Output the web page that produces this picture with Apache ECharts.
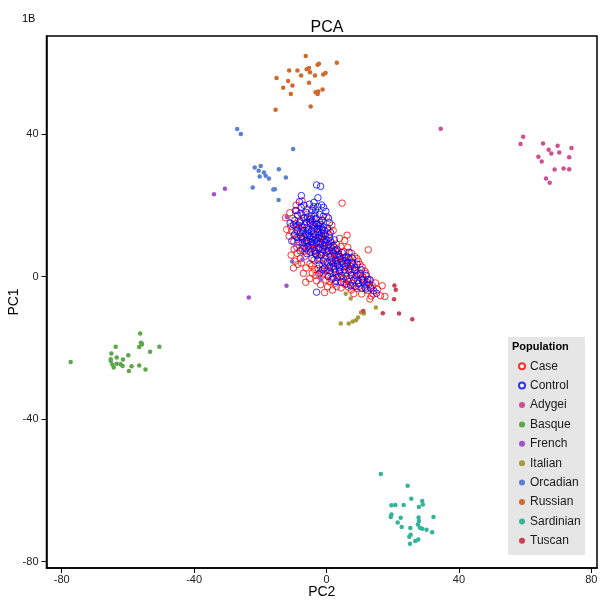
<!DOCTYPE html>
<html>
<head>
<meta charset="utf-8">
<script src="https://cdn.jsdelivr.net/npm/echarts@6/dist/echarts.min.js"></script>
<style>html,body{margin:0;padding:0;background:#fff;}#chart{width:604px;height:606px;}</style>
</head>
<body>
<div id="chart"></div>
<script>
const xTicks = [-80, -40, 0, 40, 80];
const yTicks = [-80, -40, 0, 40];
const populations = ['Case','Control','Adygei','Basque','French','Italian','Orcadian','Russian','Sardinian','Tuscan'];

const caseData = [[-11.1,17.9],[-9.1,18.5],[-10.2,16.3],[-9.6,12.0],[-8.4,13.6],[-6.6,16.6],[-8.0,15.5],[-10.8,14.0],[-11.3,11.3],[-9.9,9.8],[-8.6,10.9],[-7.2,12.5],[-6.0,13.8],[-4.9,15.2],[-3.6,16.9],[4.7,20.6],[-2.0,13.4],[-3.2,11.6],[-4.6,10.6],[-6.0,9.3],[-7.4,7.8],[-8.9,6.5],[-9.5,4.3],[-7.9,5.1],[-6.5,5.7],[-5.0,3.6],[-5.5,7.4],[-4.2,7.9],[-3.0,8.2],[-1.7,9.6],[-0.4,10.5],[0.8,11.8],[2.0,12.9],[1.5,9.5],[0.2,8.0],[-1.1,6.8],[-2.4,5.2],[-3.8,4.6],[-3.2,0.3],[-1.8,-2.3],[0.3,-2.9],[-2.5,2.2],[-1.2,3.1],[0.1,1.7],[1.4,2.3],[2.6,3.8],[4.0,-0.2],[2.9,0.6],[1.6,-0.8],[5.5,10.1],[4.3,8.4],[3.0,9.1],[5.2,7.0],[6.4,8.2],[7.5,6.6],[8.5,5.6],[6.9,4.8],[5.8,3.0],[4.6,4.3],[3.4,5.3],[2.2,6.5],[1.0,6.3],[-0.4,4.9],[9.6,4.2],[10.8,2.6],[11.6,1.5],[10.6,-0.7],[9.7,0.5],[8.6,-0.3],[7.4,1.2],[6.2,-0.9],[5.1,-1.6],[7.8,-1.8],[9.1,-3.3],[10.6,-4.9],[13.1,-6.3],[14.1,-4.9],[12.4,-3.9],[11.6,-2.4],[12.9,-0.8],[13.9,-2.6],[15.4,-3.6],[16.3,-5.4],[12.6,7.5],[8.0,3.2],[6.7,2.1],[3.8,1.5],[2.5,-1.9],[4.4,-3.2],[6.6,-3.0],[8.2,-4.8],[-1.0,0.8],[-3.6,2.0],[-6.2,2.4],[-7.0,0.9],[-5.1,-0.6],[-0.6,-4.5],[1.8,-3.8],[-4.5,12.7],[-5.7,11.1],[-7.0,10.6],[-8.2,8.8],[-9.8,7.7],[-10.7,6.0],[-10.0,2.4],[-2.8,14.7],[-1.3,15.6],[0.1,16.8],[1.6,14.4],[0.4,13.0],[-0.9,12.0],[-1.8,10.9],[-2.9,9.9],[-4.0,9.2],[-5.3,8.5],[-6.7,7.0],[-3.3,6.3],[-2.1,7.7],[-0.8,8.5],[0.6,7.3],[1.9,5.0],[3.1,4.4],[4.4,2.7],[5.7,1.0],[7.0,-0.5],[8.9,1.6],[10.1,3.4],[9.2,5.0],[7.6,3.8],[5.9,5.7],[3.6,7.2],[2.3,8.1],[3.9,10.7],[6.2,11.6],[1.0,-1.5],[0.2,0.3],[-1.5,1.6],[-4.3,1.0],[-3.0,-1.2],[11.3,-1.0],[14.8,-1.8],[16.8,-2.6],[17.6,-5.6],[13.5,-5.5],[11.9,0.8],[-8.7,3.4],[-6.3,-1.6],[-12.0,13.2],[-12.4,16.5],[-9.2,20.0],[-7.4,21.2],
  [-9.3,14.8],[-7.6,14.2],[-5.2,16.0],[-3.9,14.0],[-2.4,12.4],[-1.0,10.0],[0.5,8.8],[1.8,7.0],[3.3,5.9],[4.9,5.0],[6.3,3.5],[7.9,2.0],[9.3,0.9],[10.9,-0.2],[12.2,-1.6],[13.4,-3.1],[-8.0,11.8],[-6.4,10.0],[-4.8,8.0],[-3.4,7.0],[-2.0,6.0],[-0.5,3.8],[1.0,3.0],[2.4,2.0],[3.6,0.4],[5.0,-0.5],[6.6,-1.4],[8.0,-2.6],[9.8,-2.8],[-7.8,17.8],[-5.8,19.0],[-10.5,12.8],[-9.0,8.2],[-7.6,3.8],[-4.4,3.0],[-2.3,0.7],[-0.2,-1.0],[3.0,-2.8],[5.5,-2.2],[7.5,-3.8]];

const controlData = [[-3.0,25.7],[-1.8,25.3],[-2.6,22.1],[-7.6,22.7],[-7.7,19.4],[-5.2,20.3],[-3.8,20.8],[-1.5,20.1],[-0.2,18.3],[-2.1,17.4],[-4.4,18.6],[-6.3,18.0],[-8.8,17.2],[-9.6,15.8],[-8.1,15.1],[-6.9,16.4],[-5.0,14.9],[-4.4,15.6],[-3.2,16.3],[-1.4,15.8],[0.9,15.1],[0.3,13.6],[-0.9,13.9],[-2.4,14.2],[-3.6,13.5],[-5.6,13.1],[-7.2,13.8],[-8.9,12.9],[-9.8,11.6],[-7.8,11.2],[-6.4,11.9],[-5.1,11.4],[-3.9,12.0],[-2.7,12.6],[-1.6,12.2],[-0.4,11.6],[1.2,12.4],[1.2,10.0],[0.1,10.3],[-1.2,10.6],[-2.5,10.9],[-3.7,10.2],[-4.9,9.8],[-6.1,10.1],[-7.3,9.5],[-8.5,9.7],[-6.8,8.3],[-5.5,8.6],[-4.2,8.9],[-3.0,9.4],[-1.9,9.0],[-0.7,8.7],[0.6,9.0],[2.0,8.7],[3.1,7.7],[1.6,7.4],[0.3,7.1],[-1.1,7.5],[-2.4,7.8],[-3.6,7.2],[-4.8,6.9],[-2.9,5.9],[-1.6,6.1],[-0.2,5.8],[1.1,5.6],[2.4,6.0],[3.6,6.3],[4.7,6.7],[5.5,5.2],[4.2,4.9],[2.8,4.5],[1.5,4.2],[0.2,3.9],[-1.0,4.4],[-2.2,3.3],[-0.6,2.4],[0.8,2.7],[2.1,2.9],[3.4,3.2],[5.0,3.6],[6.3,3.9],[7.2,2.9],[8.5,2.6],[8.5,1.8],[6.8,1.6],[5.4,1.9],[4.0,1.5],[2.6,1.2],[1.3,0.9],[3.2,-0.2],[4.6,0.3],[6.0,0.1],[7.5,0.4],[9.4,-1.1],[10.2,0.8],[8.2,-0.9],[6.0,-2.1],[7.3,-2.6],[10.6,-3.3],[11.6,-3.0],[11.9,-3.5],[12.8,-2.2],[14.3,-4.0],[15.1,-4.7],[13.2,-1.0],[11.0,-1.6],[-3.0,-4.4],[-2.0,1.0],[-4.4,5.0],[-6.0,6.4],[-8.0,7.2],[-9.2,13.9],[-10.0,14.5],[-9.4,18.5],[-7.4,17.3],[-5.8,16.7],[-4.6,17.0],[-3.3,18.7],[-2.6,19.6],[-5.7,12.5],[-4.5,13.0],[-6.6,14.5],[-3.1,14.8],[-2.0,15.2],[-1.0,16.9],[-7.9,12.3],[-2.2,11.5],[-4.1,11.0],[-1.3,13.3],[0.9,11.0],[-0.5,9.5],[2.4,10.3],[-3.4,6.5],[1.9,3.7],[3.9,2.5],[5.7,4.5],[7.8,5.2],[6.8,6.8],[9.2,3.5],[10.5,1.9],[12.0,0.3],[4.4,-1.6],[2.0,-0.5],[9.7,-2.0],[-10.5,10.0],[-11.0,15.0],[-8.2,21.0],
  [-4.8,16.2],[-3.5,17.6],[-6.0,15.3],[-7.0,12.9],[-5.3,12.0],[-4.0,14.4],[-2.8,13.4],[-1.8,14.6],[-0.6,12.9],[-1.4,11.2],[-3.2,10.6],[-4.4,9.7],[-5.6,9.9],[-2.0,8.2],[-0.1,6.7],[1.3,8.2],[2.7,7.2],[4.0,5.6],[3.2,3.5],[1.0,1.6],[5.6,2.8],[6.5,5.4],[7.8,3.8],[9.0,0.2],[10.8,-1.0],[12.4,-0.9],[13.3,-3.3],[-6.8,20.0],[-0.9,19.4],[0.6,16.4],[-8.6,14.4],[-9.0,11.0],[-2.6,4.6],[-1.2,2.0],[0.5,0.0],[2.8,-1.4],[8.6,-2.8],[-6.2,7.8],[-7.5,10.8],[-3.9,19.6]];

const adygeiData = [[59.4,39.2],[58.6,37.2],[65.4,37.3],[69.8,36.7],[74.0,36.1],[67.1,35.6],[67.9,34.5],[70.3,34.8],[73.3,33.5],[64.0,33.6],[65.0,32.3],[68.9,30.0],[71.6,30.3],[73.3,30.1],[66.3,27.5],[67.4,26.3],[34.5,41.5]];

const basqueData = [[-77.3,-24.0],[-56.3,-16.0],[-63.7,-19.7],[-56.1,-18.6],[-55.8,-19.1],[-56.6,-19.8],[-50.5,-19.7],[-53.3,-21.1],[-65.0,-21.6],[-63.4,-22.7],[-65.2,-23.2],[-65.2,-23.7],[-61.5,-23.3],[-59.9,-22.1],[-64.7,-24.7],[-63.4,-24.5],[-62.2,-24.6],[-61.6,-25.1],[-64.3,-25.5],[-58.9,-25.2],[-56.6,-25.0],[-59.7,-26.5],[-54.7,-26.1],[-55.8,-18.8]];

const frenchData = [[-34.0,23.1],[-30.7,24.6],[-12.0,16.7],[-9.5,9.0],[-10.4,4.2],[-7.3,4.7],[-12.1,-2.6],[-23.5,-5.9],[-1.8,-0.8]];

const italianData = [[4.3,-13.2],[6.7,-13.2],[7.9,-12.6],[8.9,-12.3],[9.5,-11.5],[10.4,-10.1],[11.3,-10.4],[14.9,-8.7],[5.8,-4.8],[7.3,-6.2]];

const orcadianData = [[-27.0,41.4],[-25.9,40.0],[-10.1,35.8],[-21.7,30.6],[-19.9,31.0],[-20.5,29.7],[-18.9,29.2],[-18.4,28.3],[-20.2,28.1],[-17.4,27.5],[-14.4,30.1],[-12.3,27.8],[-22.3,25.0],[-16.1,24.4],[-15.6,24.5],[-14.5,21.5]];

const russianData = [[-6.3,61.9],[-2.3,59.7],[-2.7,59.4],[3.1,60.0],[-15.1,55.7],[-11.3,57.8],[-8.8,57.8],[-6.0,58.2],[-5.3,58.5],[-5.0,57.3],[-7.7,56.4],[-3.5,56.4],[-1.0,56.7],[-0.3,57.1],[-11.6,54.9],[-13.1,53.0],[-10.3,53.6],[-5.3,54.4],[-10.8,51.2],[-3.3,51.7],[-2.5,51.9],[-2.7,51.2],[-1.2,52.5],[-4.8,47.7],[-15.4,46.8]];

const sardinianData = [[16.4,-55.4],[24.5,-58.7],[25.6,-62.4],[28.9,-63.0],[29.1,-64.0],[27.9,-64.7],[19.6,-64.2],[20.8,-64.1],[23.3,-64.1],[19.6,-66.8],[19.4,-67.5],[22.4,-67.7],[21.5,-69.0],[22.7,-70.3],[25.3,-70.6],[27.8,-67.6],[27.9,-68.6],[27.6,-69.6],[28.2,-70.5],[28.9,-70.8],[30.2,-71.1],[32.3,-67.5],[31.9,-71.8],[25.4,-72.5],[25.0,-73.0],[26.8,-74.2],[27.7,-73.8],[25.2,-75.0]];

const tuscanData = [[20.5,-2.5],[20.9,-3.7],[20.4,-6.4],[21.9,-10.4],[25.9,-12.0],[17.0,-10.3],[11.1,-9.7]];

const colors = {
  Case:'#FF0000', Control:'#0000FF', Adygei:'#CE4E93', Basque:'#5DA64A', French:'#A253C9',
  Italian:'#A69B3B', Orcadian:'#5B7FD1', Russian:'#D2682A', Sardinian:'#33B29C', Tuscan:'#CC3F55'
};
const dataMap = {Case:caseData, Control:controlData, Adygei:adygeiData, Basque:basqueData, French:frenchData,
  Italian:italianData, Orcadian:orcadianData, Russian:russianData, Sardinian:sardinianData, Tuscan:tuscanData};

const FONT = 'Liberation Sans, Arial, sans-serif';
const chart = echarts.init(document.getElementById('chart'), null, {renderer:'canvas'});
const series = populations.map(function(p){
  const open = (p === 'Case' || p === 'Control');
  return {
    name: p, type: 'scatter', data: dataMap[p],
    symbol: 'circle',
    symbolSize: open ? 6.5 : 4.5,
    itemStyle: open ? {color: 'rgba(255,255,255,0)', borderColor: colors[p], borderWidth: 1} : {color: colors[p], opacity: 1},
    emphasis: {disabled: true},
    z: open ? 2 : 3
  };
});

chart.setOption({
  animation: false,
  backgroundColor: '#ffffff',
  title: [
    {text: 'PCA', left: 322, top: 15, textAlign: 'center',
     textStyle: {fontFamily: FONT, fontSize: 16, fontWeight: 'normal', color: '#000'}},
    {text: '1B', left: 17, top: 8,
     textStyle: {fontFamily: FONT, fontSize: 11, fontWeight: 'normal', color: '#000'}}
  ],
  grid: {left: 46.5, right: 7, top: 36, bottom: 38, containLabel: false, outerBoundsMode: 'none',
         show: true, borderColor: '#000', borderWidth: 1.5, backgroundColor: '#fff'},
  xAxis: {
    type: 'value', min: -84.6, max: 81.7,
    name: 'PC2', nameLocation: 'middle', nameGap: 17, nameMoveOverlap: false,
    nameTextStyle: {fontFamily: FONT, fontSize: 14, color: '#000', verticalAlign: 'top'},
    axisLine: {show: true, onZero: false, lineStyle: {color: '#000', width: 1.5}},
    axisTick: {show: true, inside: false, length: 5, lineStyle: {color: '#000'}, customValues: xTicks},
    axisLabel: {margin: 6, fontFamily: FONT, fontSize: 11, color: '#222', customValues: xTicks},
    splitLine: {show: false}
  },
  yAxis: {
    type: 'value', min: -81.8, max: 67.5,
    name: 'PC1', nameLocation: 'middle', nameGap: 25, nameRotate: 90, nameMoveOverlap: false,
    nameTextStyle: {fontFamily: FONT, fontSize: 14, color: '#000'},
    axisLine: {show: true, onZero: false, lineStyle: {color: '#000', width: 1.5}},
    axisTick: {show: true, inside: false, length: 5, lineStyle: {color: '#000'}, customValues: yTicks},
    axisLabel: {margin: 8, fontFamily: FONT, fontSize: 11, color: '#222', customValues: yTicks},
    splitLine: {show: false}
  },
  graphic: [
    {type: 'rect', left: 508, top: 337, shape: {width: 77, height: 218}, style: {fill: '#e6e6e6'}, z: 10},
    {type: 'text', left: 512, top: 341, style: {text: 'Population', font: 'bold 11px ' + FONT, fill: '#000'}, z: 11}
  ],
  legend: {
    orient: 'vertical', left: 518, top: 356.5, padding: 0, itemGap: 0,
    itemWidth: 6, itemHeight: 6, itemTextGap: 10,
    z: 20,
    selectedMode: false,
    textStyle: {fontFamily: FONT, fontSize: 12, color: '#1a1a1a', lineHeight: 19.4, height: 19.4},
    data: populations.map(function(p){
      const open = (p === 'Case' || p === 'Control');
      return open ? {name: p, icon: 'emptyCircle', itemStyle: {color: colors[p], borderColor: colors[p], borderWidth: 1.2}}
                  : {name: p, icon: 'circle', itemStyle: {color: colors[p]}};
    })
  },
  series: series
});
</script>
</body>
</html>
